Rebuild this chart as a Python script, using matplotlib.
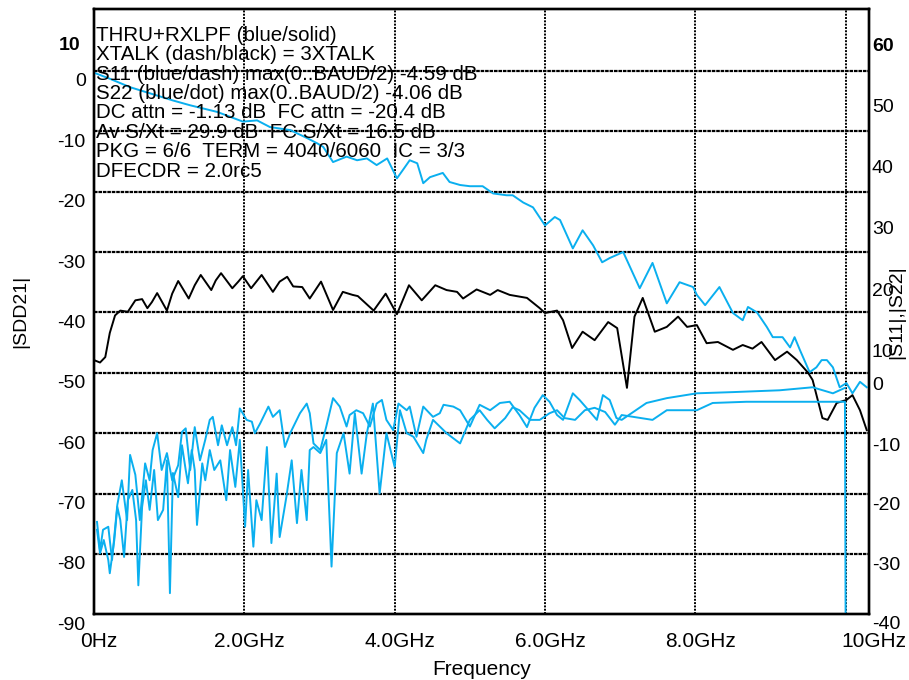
import numpy as np
import matplotlib
matplotlib.use("Agg")
import matplotlib.pyplot as plt
import matplotlib.transforms as mtransforms

plt.rcParams['font.family'] = ['Liberation Sans', 'DejaVu Sans']

BLUE = "#0AAFEF"

# ---- THRU+RXLPF (left axis, dB) ----
thru_f = [0.0, 0.21, 0.48, 0.74, 1.05, 1.28, 1.64, 1.81, 1.98, 2.17, 2.34, 2.61, 2.83, 2.97, 3.05,
          3.18, 3.36, 3.50, 3.63, 3.76, 3.90, 4.03, 4.11, 4.20, 4.30, 4.38, 4.47, 4.64, 4.73, 4.87,
          5.00, 5.17, 5.31, 5.49, 5.57, 5.71, 5.84, 6.00, 6.13, 6.20, 6.37, 6.50, 6.64, 6.76, 6.86,
          7.04, 7.26, 7.43, 7.62, 7.79, 7.97, 8.02, 8.13, 8.32, 8.50, 8.63, 8.70, 8.82, 8.95, 9.03,
          9.16, 9.26, 9.32, 9.39, 9.52, 9.61, 9.68, 9.75, 9.83, 9.92, 10.01, 10.09, 10.19, 10.28]
thru_db = [-0.3, -1.3, -2.7, -3.7, -4.9, -5.7, -6.8, -7.6, -8.4, -8.2, -9.3, -9.8, -11.1, -12.0, -12.6,
           -15.1, -14.2, -14.8, -14.5, -15.6, -14.5, -17.8, -16.4, -14.8, -15.3, -18.6, -17.6, -16.9, -18.4, -18.9,
           -19.1, -19.1, -20.3, -20.6, -20.6, -21.8, -22.6, -25.6, -24.2, -24.7, -29.4, -26.4, -28.9, -31.7, -31.0,
           -30.0, -36.0, -31.8, -38.5, -35.0, -35.8, -37.1, -38.8, -35.8, -40.1, -41.3, -39.1, -40.0, -42.4, -44.1,
           -44.1, -45.8, -44.1, -46.2, -49.9, -49.1, -47.9, -47.9, -49.1, -52.4, -51.7, -53.4, -51.5, -52.4]

# ---- XTALK (left axis, dB) ----
xt_f = [0.0, 0.08, 0.15, 0.21, 0.28, 0.35, 0.45, 0.55, 0.64, 0.71, 0.77, 0.84, 0.97, 1.04, 1.12,
        1.26, 1.34, 1.42, 1.56, 1.62, 1.69, 1.84, 1.92, 1.98, 2.09, 2.23, 2.38, 2.47, 2.57, 2.65,
        2.77, 2.87, 3.02, 3.18, 3.31, 3.44, 3.51, 3.72, 3.88, 4.03, 4.19, 4.36, 4.54, 4.69, 4.83,
        4.91, 5.09, 5.27, 5.37, 5.53, 5.76, 5.93, 6.00, 6.16, 6.24, 6.36, 6.50, 6.66, 6.84, 6.96,
        7.09, 7.19, 7.30, 7.46, 7.62, 7.77, 7.89, 8.02, 8.15, 8.30, 8.50, 8.63, 8.76, 8.88, 9.06,
        9.22, 9.35, 9.50, 9.56, 9.69, 9.76, 9.88, 10.01, 10.09, 10.19, 10.28]
xt_db = [-47.9, -48.3, -47.4, -43.4, -40.5, -39.7, -39.9, -38.0, -37.8, -39.3, -38.3, -36.8, -39.7, -36.9, -34.8,
         -37.7, -35.5, -33.8, -36.3, -34.7, -33.5, -36.0, -34.9, -34.0, -36.0, -33.8, -36.6, -34.9, -34.1, -35.7,
         -35.8, -37.7, -34.9, -39.6, -36.6, -37.1, -37.3, -39.7, -36.9, -40.3, -35.5, -38.0, -35.5, -36.3, -36.6,
         -37.7, -36.2, -37.1, -36.3, -37.1, -37.6, -39.3, -40.1, -39.7, -41.3, -45.9, -43.2, -44.6, -41.6, -42.6,
         -52.5, -40.7, -37.6, -43.2, -42.4, -40.7, -42.4, -42.1, -45.1, -44.9, -46.2, -45.4, -46.0, -44.9, -47.9,
         -46.5, -47.9, -50.0, -51.2, -57.5, -57.8, -55.0, -54.5, -53.7, -56.2, -59.5]

# ---- S22 (right axis, dB) ----
s22_f = [0.04, 0.08, 0.12, 0.19, 0.24, 0.31, 0.37, 0.44, 0.48, 0.55,
         0.61, 0.68, 0.74, 0.78, 0.84, 0.90, 0.97, 1.04, 1.12, 1.17,
         1.22, 1.28, 1.34, 1.41, 1.48, 1.54, 1.58, 1.65, 1.70, 1.77,
         1.84, 1.89, 1.94, 2.03, 2.10, 2.14, 2.21, 2.32, 2.38, 2.47,
         2.54, 2.61, 2.74, 2.83, 2.87, 2.92, 3.01, 3.09, 3.18, 3.27,
         3.36, 3.40, 3.49, 3.58, 3.67, 3.76, 3.83, 3.89, 3.98, 4.05,
         4.16, 4.20, 4.29, 4.38, 4.51, 4.60, 4.65, 4.78, 4.87, 5.00,
         5.13, 5.27, 5.40, 5.53, 5.66, 5.76, 5.86, 5.97, 6.06, 6.16,
         6.24, 6.37, 6.46, 6.60, 6.69, 6.77, 6.86, 6.95, 7.02, 7.35,
         7.62, 8.02, 8.50, 9.12, 9.56, 9.83, 9.99]
s22_db = [-24.7, -29.4, -26.0, -25.5, -31.0, -21.9, -17.8, -24.4, -13.6, -16.9,
          -24.4, -15.0, -17.8, -12.8, -10.0, -16.1, -13.3, -17.8, -15.3, -9.8,
          -9.2, -16.1, -9.0, -14.5, -11.1, -7.8, -7.3, -12.0, -8.7, -12.0,
          -9.0, -12.0, -5.9, -7.8, -8.1, -10.0, -8.4, -5.6, -7.3, -6.2,
          -12.3, -10.0, -6.7, -5.1, -6.7, -11.7, -12.8, -8.9, -4.2, -5.6,
          -8.9, -7.0, -6.2, -6.7, -8.9, -5.1, -4.5, -7.8, -9.5, -5.1,
          -6.2, -5.6, -10.6, -5.6, -7.3, -6.7, -5.3, -5.6, -6.2, -8.9,
          -5.3, -6.2, -5.0, -4.8, -7.0, -9.0, -5.8, -3.7, -4.8, -7.0,
          -7.8, -3.4, -4.5, -6.5, -7.8, -3.7, -4.5, -7.5, -7.8, -5.0,
          -4.2, -3.4, -3.2, -2.9, -2.4, -3.4, -2.5]

# ---- S11 (right axis, dB) ----
s11_f = [0.04, 0.08, 0.13, 0.19, 0.21, 0.27, 0.31, 0.35, 0.40, 0.45,
         0.51, 0.56, 0.59, 0.64, 0.69, 0.74, 0.80, 0.85, 0.92, 0.97,
         1.01, 1.05, 1.12, 1.17, 1.22, 1.25, 1.30, 1.34, 1.37, 1.44,
         1.48, 1.54, 1.60, 1.68, 1.76, 1.81, 1.88, 1.94, 2.01, 2.05,
         2.12, 2.16, 2.23, 2.30, 2.36, 2.43, 2.47, 2.56, 2.63, 2.70,
         2.76, 2.83, 2.87, 2.92, 3.01, 3.09, 3.16, 3.23, 3.32, 3.40,
         3.47, 3.56, 3.63, 3.71, 3.80, 3.89, 4.00, 4.07, 4.16, 4.25,
         4.38, 4.42, 4.51, 4.69, 4.87, 5.00, 5.13, 5.23, 5.33, 5.47,
         5.57, 5.66, 5.80, 5.93, 6.06, 6.16, 6.26, 6.40, 6.53, 6.66,
         6.80, 6.93, 7.02, 7.43, 7.62, 8.02, 8.23, 8.68, 9.12, 9.39,
         9.79, 9.99, 10.0]
s11_db = [-26.0, -29.9, -27.7, -31.0, -33.2, -27.7, -22.2, -24.4, -30.5, -21.1,
          -19.4, -24.4, -35.2, -22.2, -17.8, -22.7, -16.1, -24.4, -22.7, -14.5,
          -36.5, -16.6, -20.6, -12.0, -16.1, -18.3, -12.8, -16.1, -25.2, -15.0,
          -17.8, -12.8, -16.1, -14.5, -21.1, -12.8, -18.9, -11.1, -25.5, -16.1,
          -28.8, -21.1, -24.4, -12.3, -28.2, -16.7, -27.2, -20.5, -14.5, -24.9,
          -16.1, -24.4, -12.8, -12.3, -13.3, -11.1, -32.1, -13.3, -10.0, -16.7,
          -6.7, -16.7, -10.0, -5.1, -20.0, -10.0, -15.6, -6.2, -10.0, -10.6,
          -13.3, -11.1, -7.8, -10.0, -11.7, -7.8, -6.2, -7.8, -9.2, -7.5,
          -5.7, -6.2, -7.8, -7.8, -6.7, -6.2, -7.5, -7.8, -6.2, -5.8,
          -6.5, -8.6, -7.0, -7.8, -6.2, -6.2, -5.0, -4.8, -4.8, -4.8,
          -4.8, -4.8, -45.0]

notes = ["THRU+RXLPF (blue/solid)",
         "XTALK (dash/black) = 3XTALK",
         "S11 (blue/dash) max(0..BAUD/2) -4.59 dB",
         "S22 (blue/dot) max(0..BAUD/2) -4.06 dB",
         "DC attn = -1.13 dB  FC attn = -20.4 dB",
         "Av S/Xt = 29.9 dB  FC S/Xt = 16.5 dB",
         "PKG = 6/6  TERM = 4040/6060  IC = 3/3",
         "DFECDR = 2.0rc5"]

left_ticks = [-90, -80, -70, -60, -50, -40, -30, -20, -10, 0, 10]
right_ticks = [-40, -30, -20, -10, 0, 10, 20, 30, 40, 50, 60]
x_ticks = [0, 2, 4, 6, 8]
x_labels = ["0Hz", "2.0GHz", "4.0GHz", "6.0GHz", "8.0GHz"]
XMAX = 10.31
FS = 14

W, H = 909, 680
fig = plt.figure(figsize=(W / 100, H / 100), dpi=100)
ax = fig.add_axes([94 / W, 1 - 614.3 / H, 775 / W, 605 / H])
ax.set_xlim(0, XMAX)
ax.set_ylim(-90, 10.2)

for y in range(-80, 10, 10):
    ax.axhline(y, color="k", lw=1.6, ls=(0, (1.6, 0.4)), zorder=1)
for x in [2, 4, 6, 8, 10]:
    ax.axvline(x, color="k", lw=1.4, ls=(0, (1.0, 0.7)), zorder=1)

ax.plot(thru_f, thru_db, color=BLUE, lw=1.4, zorder=3)
ax.plot(xt_f, xt_db, color="k", lw=1.4, zorder=3)

ax2 = ax.twinx()
ax2.set_ylim(-40, 60.2)
ax2.plot(s22_f, s22_db, color=BLUE, lw=1.4)
ax2.plot(s11_f, s11_db, color=BLUE, lw=1.4)

for a in (ax, ax2):
    for s in a.spines.values():
        s.set_linewidth(1.7)
    a.tick_params(length=0, labelsize=FS)

def shift(lbl, dx, dy):
    lbl.set_transform(lbl.get_transform() +
                      mtransforms.ScaledTranslation(dx / 100, -dy / 100, fig.dpi_scale_trans))

# left axis labels
ax.set_yticks(left_ticks, [str(v) for v in left_ticks])
ax.tick_params(axis="y", pad=6)
for v, lbl in zip(left_ticks, ax.get_yticklabels()):
    if v == 10:
        lbl.set_fontweight("bold")
        shift(lbl, -5, 33)
    else:
        shift(lbl, 0, 9)

# right axis labels
ax2.set_yticks(right_ticks, [str(v) for v in right_ticks])
ax2.tick_params(axis="y", pad=2)
right_dy = {60: 34, 50: 35, 40: 35, 30: 36, 20: 37, 10: 38, 0: 11, -10: 11, -20: 10, -30: 10, -40: 8}
for v, lbl in zip(right_ticks, ax2.get_yticklabels()):
    if v == 60:
        lbl.set_fontweight("bold")
    shift(lbl, 0, right_dy[v])

# x labels
ax.set_xticks(x_ticks + [XMAX], x_labels + ["10GHz"])
ax.tick_params(axis="x", pad=13, labelsize=15)
for lbl in ax.get_xticklabels():
    shift(lbl, 5, 0)

ax.set_xlabel("Frequency", fontsize=15, labelpad=6)
ax.set_ylabel("|SDD21|", fontsize=FS)
ax.yaxis.set_label_coords(-0.083, 0.5)
ax2.set_ylabel("|S11|,|S22|", fontsize=FS)
ax2.yaxis.set_label_coords(1.0245, 0.5)

for i, t in enumerate(notes):
    fig.text(96 / W, 1 - (35.3 + 19.4 * i) / H, t, fontsize=14.8, va="center", ha="left")

fig.savefig("out.png", dpi=100)
